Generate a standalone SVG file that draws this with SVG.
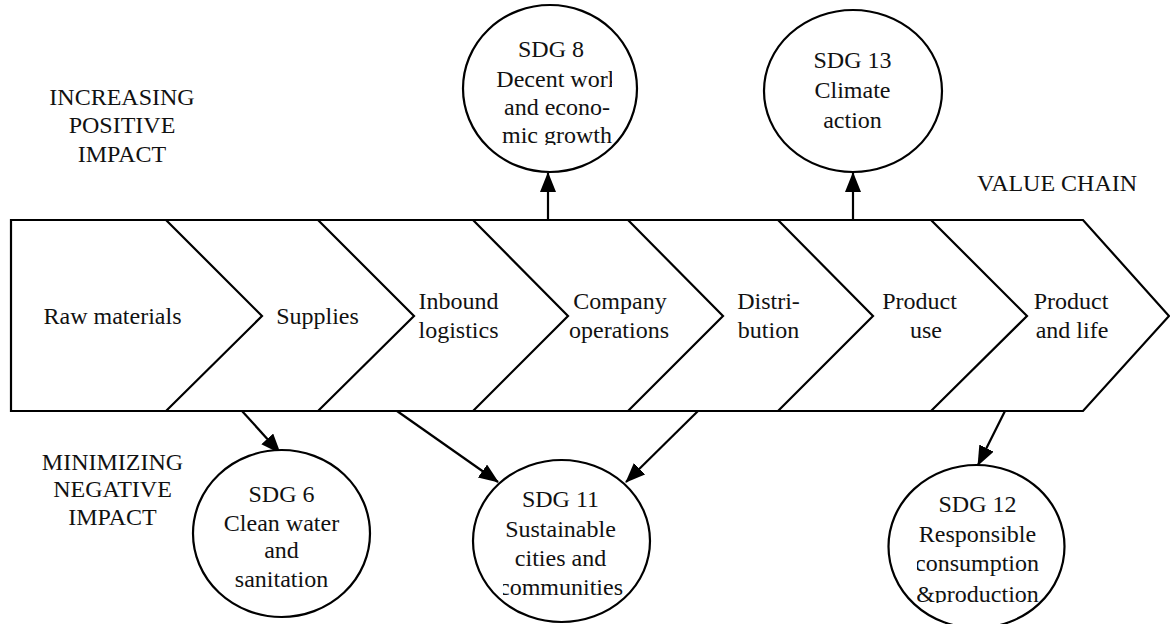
<svg xmlns="http://www.w3.org/2000/svg" width="1170" height="624" viewBox="0 0 1170 624" font-family="Liberation Serif, Times New Roman, serif">
<style>
text{font-size:24px;fill:#111;text-anchor:middle}
.ln{fill:none;stroke:#000;stroke-width:2.2;stroke-linejoin:miter}
.c{fill:#fff;stroke:#000;stroke-width:2.2}
.ar{fill:none;stroke:#000;stroke-width:2.2;marker-end:url(#ah)}
</style>
<defs>
<marker id="ah" markerUnits="userSpaceOnUse" markerWidth="22" markerHeight="17" refX="19" refY="8" orient="auto"><path d="M0,0 L20,8 L0,16 z" fill="#000"/></marker>
<clipPath id="cp8"><rect x="480" y="20" width="132" height="125"/></clipPath>
<clipPath id="cp11"><rect x="503" y="470" width="130" height="140"/></clipPath>
<clipPath id="cp12"><rect x="917" y="480" width="130" height="123"/></clipPath>
</defs>
<rect width="1170" height="624" fill="#fff"/>

<g id="labels">
<text x="122" y="105">INCREASING</text>
<text x="122" y="133">POSITIVE</text>
<text x="122" y="162">IMPACT</text>
<text x="112.5" y="470">MINIMIZING</text>
<text x="112.5" y="497">NEGATIVE</text>
<text x="112.5" y="525">IMPACT</text>
<text x="1057" y="191">VALUE CHAIN</text>
</g>

<g id="value-chain">
<path class="ln" d="M11,220 L1083,220 L1169,316 L1083,411 L11,411 Z"/>
<path class="ln" d="M166,220 L262,316 L166,411"/>
<path class="ln" d="M318,220 L414,316 L318,411"/>
<path class="ln" d="M473,220 L568,316 L473,411"/>
<path class="ln" d="M628,220 L723,316 L628,411"/>
<path class="ln" d="M778,220 L873,316 L778,411"/>
<path class="ln" d="M931,220 L1027,316 L931,411"/>
</g>

<g id="stage-raw"><text x="112.5" y="324">Raw materials</text></g>
<g id="stage-supplies"><text x="317.5" y="324">Supplies</text></g>
<g id="stage-inbound"><text x="458.5" y="309">Inbound</text><text x="458.5" y="338">logistics</text></g>
<g id="stage-company"><text x="620" y="309">Company</text><text x="619" y="338">operations</text></g>
<g id="stage-distribution"><text x="768.5" y="309">Distri-</text><text x="768.5" y="338">bution</text></g>
<g id="stage-use"><text x="919.5" y="309">Product</text><text x="926" y="338">use</text></g>
<g id="stage-life"><text x="1071" y="309">Product</text><text x="1072" y="338">and life</text></g>

<g id="connectors">
<line class="ar" x1="548" y1="220" x2="548" y2="173"/>
<line class="ar" x1="853" y1="220" x2="853" y2="173"/>
<line class="ar" x1="242" y1="411" x2="280" y2="453"/>
<line class="ar" x1="397" y1="411" x2="498" y2="482"/>
<line class="ar" x1="698" y1="411" x2="626" y2="482"/>
<line class="ar" x1="1005" y1="411" x2="978" y2="465"/>
</g>

<g id="sdg8">
<ellipse class="c" cx="550" cy="88.5" rx="87" ry="83.5"/>
<g clip-path="url(#cp8)">
<text x="551" y="57">SDG 8</text>
<text x="558" y="87">Decent work</text>
<text x="557" y="115">and econo-</text>
<text x="557" y="143">mic growth</text>
</g>
</g>

<g id="sdg13">
<ellipse class="c" cx="853" cy="91" rx="89" ry="81"/>
<text x="852.5" y="68">SDG 13</text>
<text x="852.5" y="98">Climate</text>
<text x="852.5" y="128">action</text>
</g>

<g id="sdg6">
<ellipse class="c" cx="281.5" cy="533.5" rx="88.5" ry="83.5"/>
<text x="281.5" y="502">SDG 6</text>
<text x="281.5" y="531">Clean water</text>
<text x="281.5" y="558">and</text>
<text x="281.5" y="587">sanitation</text>
</g>

<g id="sdg11">
<ellipse class="c" cx="561.5" cy="541" rx="88.5" ry="81"/>
<g clip-path="url(#cp11)">
<text x="560.5" y="507">SDG 11</text>
<text x="560.5" y="537">Sustainable</text>
<text x="560.5" y="566">cities and</text>
<text x="561" y="595">communities</text>
</g>
</g>

<g id="sdg12">
<ellipse class="c" cx="976.5" cy="546.5" rx="88" ry="81.5"/>
<g clip-path="url(#cp12)">
<text x="977.5" y="512">SDG 12</text>
<text x="977.5" y="542">Responsible</text>
<text x="977" y="571">consumption</text>
<text x="977.5" y="602">&amp;production</text>
</g>
</g>
</svg>
